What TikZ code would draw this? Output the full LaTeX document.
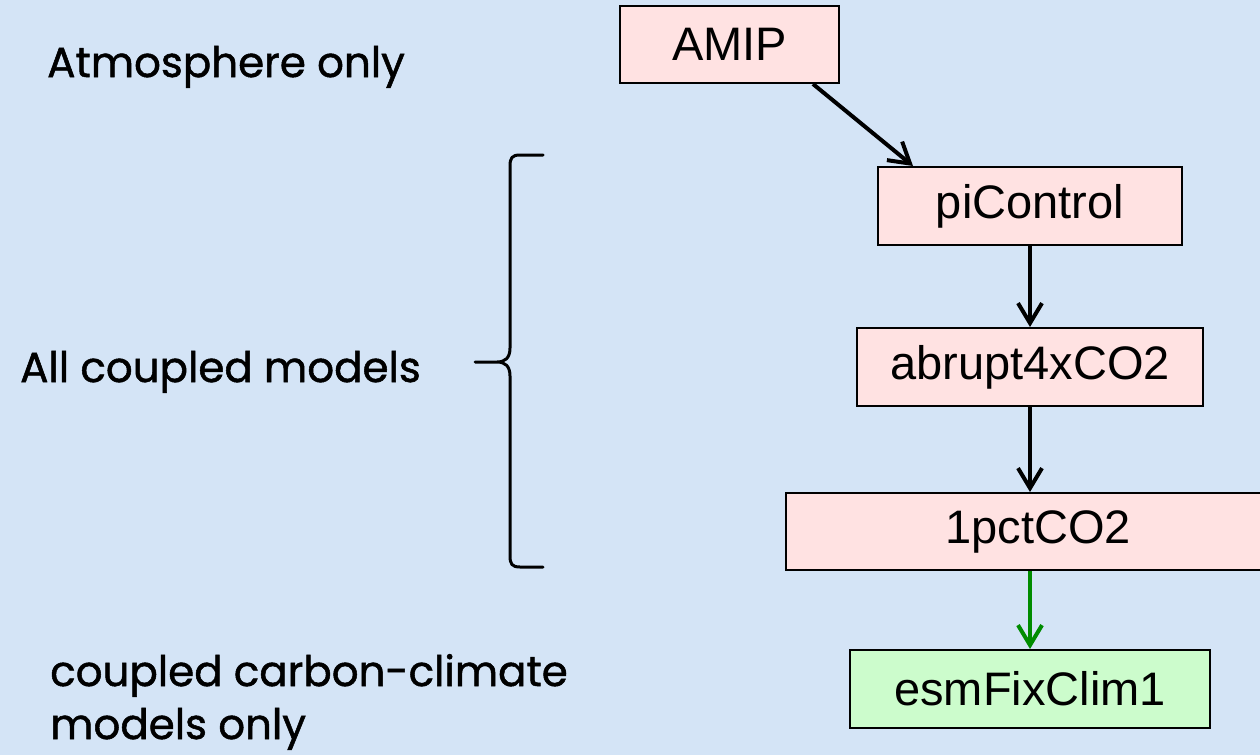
\documentclass[tikz,border=0pt]{standalone}
\usepackage{fontspec}
\setmainfont{Liberation Sans}
\newfontfamily\notefont{Poppins}[FakeBold=1.2]
\usetikzlibrary{arrows.meta,calc}

\definecolor{paper}{RGB}{212,228,246}
\definecolor{boxpink}{RGB}{255,226,226}
\definecolor{boxgreen}{RGB}{204,252,204}
\definecolor{linkgreen}{RGB}{0,140,0}

\tikzset{
  expbox/.style={draw=black, line width=2pt, fill=boxpink, inner sep=0pt,
    font=\fontsize{47}{56}\selectfont},
  esmbox/.style={expbox, fill=boxgreen},
  link/.style={line width=4pt, -{Straight Barb[length=20pt,width=24pt,line width=4pt]}},
  note/.style={inner sep=0pt, font=\notefont\fontsize{42}{55}\selectfont},
}

\begin{document}
\begin{tikzpicture}[x=1pt, y=-1pt]
  \useasboundingbox (0,0) rectangle (1260,755);
  \fill[paper] (0,0) rectangle (1260,755);

  % experiment boxes
  \node[expbox, minimum width=219pt, minimum height=77pt] (amip) at (729.5,44.5) {AMIP};
  \node[expbox, minimum width=304pt, minimum height=78pt] (pic) at (1030,206) {piControl};
  \node[expbox, minimum width=346pt, minimum height=78pt] (abr) at (1030,367) {abrupt4xCO2};
  \node[expbox, minimum width=504pt, minimum height=77pt] (pct) at (1038,531.5) {1pctCO2};
  \node[esmbox, minimum width=360pt, minimum height=78pt] (esm) at (1030,689) {esmFixClim1};

  % links between experiments
  \draw[link] ([xshift=-27pt]amip.south east) -- ([xshift=-117pt]pic.north);
  \draw[link] (pic.south) -- (abr.north);
  \draw[link] (abr.south) -- (abr.south |- pct.north);
  \draw[link, draw=linkgreen] (esm.north |- pct.south) -- (esm.north);

  % group labels
  \node[note, anchor=base west] (atm) at (47,77) {Atmosphere only};
  \node[note, anchor=base west] (cpl) at (20,382) {All coupled models};
  \node[note, anchor=base west] (esmnote) at (50,686) {coupled carbon-climate};
  \node[note, anchor=base west] (esmnote2) at (50,739) {models only};

  % brace spanning the coupled experiments
  \draw[line width=3pt, line cap=round, line join=round]
    (543,155) -- (520,155) .. controls (512,155) and (510,158) .. (510,166)
    -- (510,348) .. controls (510,358) and (505,362) .. (497,362) -- (475,362)
    (497,362) .. controls (505,362) and (510,366) .. (510,376)
    -- (510,556) .. controls (510,564) and (512,567) .. (520,567) -- (543,567);
\end{tikzpicture}
\end{document}
